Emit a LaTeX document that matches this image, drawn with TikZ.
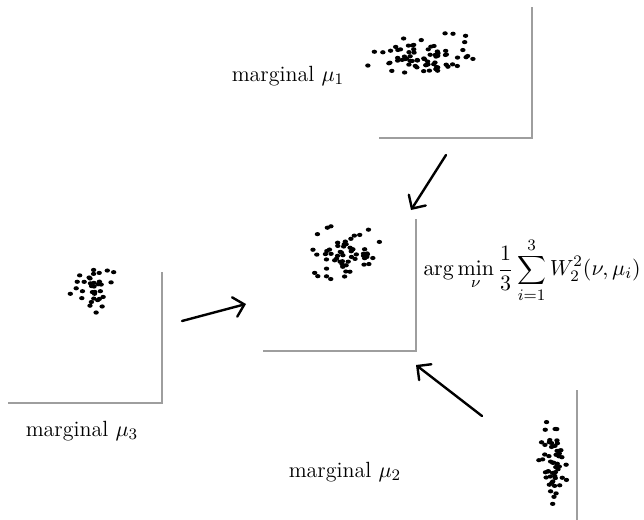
\documentclass[tikz,border=0pt]{standalone}
\usetikzlibrary{arrows.meta}
\begin{document}
\begin{tikzpicture}[x=0.5pt,y=-0.5pt,
  frame/.style={draw=black!38, line width=1pt},
  flow/.style={line width=1.2pt, line cap=round, -{Straight Barb[length=5pt,width=10pt,line cap=round]}},
  lab/.style={font=\fontsize{11}{13}\selectfont, inner sep=0pt}]
\useasboundingbox (0,0) rectangle (644,520);
% frames
\draw[frame] (532,7) -- (532,138) -- (379,138);
\draw[frame] (416,219) -- (416,351) -- (263,351);
\draw[frame] (162,272) -- (162,403) -- (8,403);
\draw[frame] (577,390) -- (577,520);
% clouds: center x, center y, sx, sy, tilt, n, seed
\foreach \cx/\cy/\sx/\sy/\tl/\n/\sd in {425/56/24/9/0.12/72/11, 346/255/16/13/0.0/58/23, 91/288/11/11/0.1/34/7, 553/465/6/20/0.0/52/5}{
  \pgfmathsetseed{\sd}
  \foreach \i in {1,...,\n}{
    \pgfmathsetmacro\rr{min(sqrt(-2*ln(rnd*0.995+0.005)),2.4)}
    \pgfmathsetmacro\tt{360*rnd}
    \pgfmathsetmacro\gx{\rr*cos(\tt)}
    \pgfmathsetmacro\gy{\rr*sin(\tt)}
    \pgfmathsetmacro\px{\cx+\sx*\gx}
    \pgfmathsetmacro\py{\cy+\sy*\gy-\tl*\sx*\gx}
    \fill (\px,\py) ellipse [x radius=1.35pt, y radius=1.05pt];
  }
}
% labels
\node[lab] (m1) at (288,76) {marginal $\mu_1$};
\node[lab] (m3) at (82,431) {marginal $\mu_3$};
\node[lab] (m2) at (345,472) {marginal $\mu_2$};
\node[lab] (obj) at (532,270) {$\displaystyle \arg\min_{\nu}\frac{1}{3}\sum_{i=1}^{3} W_2^2(\nu,\mu_i)$};
% arrows
\coordinate (t1) at (446,155); \coordinate (h1) at (411,210);
\coordinate (t3) at (182,321); \coordinate (h3) at (246,304);
\coordinate (t2) at (482,416); \coordinate (h2) at (416,365);
\draw[flow] (t1) -- (h1);
\draw[flow] (t3) -- (h3);
\draw[flow] (t2) -- (h2);
\end{tikzpicture}
\end{document}
